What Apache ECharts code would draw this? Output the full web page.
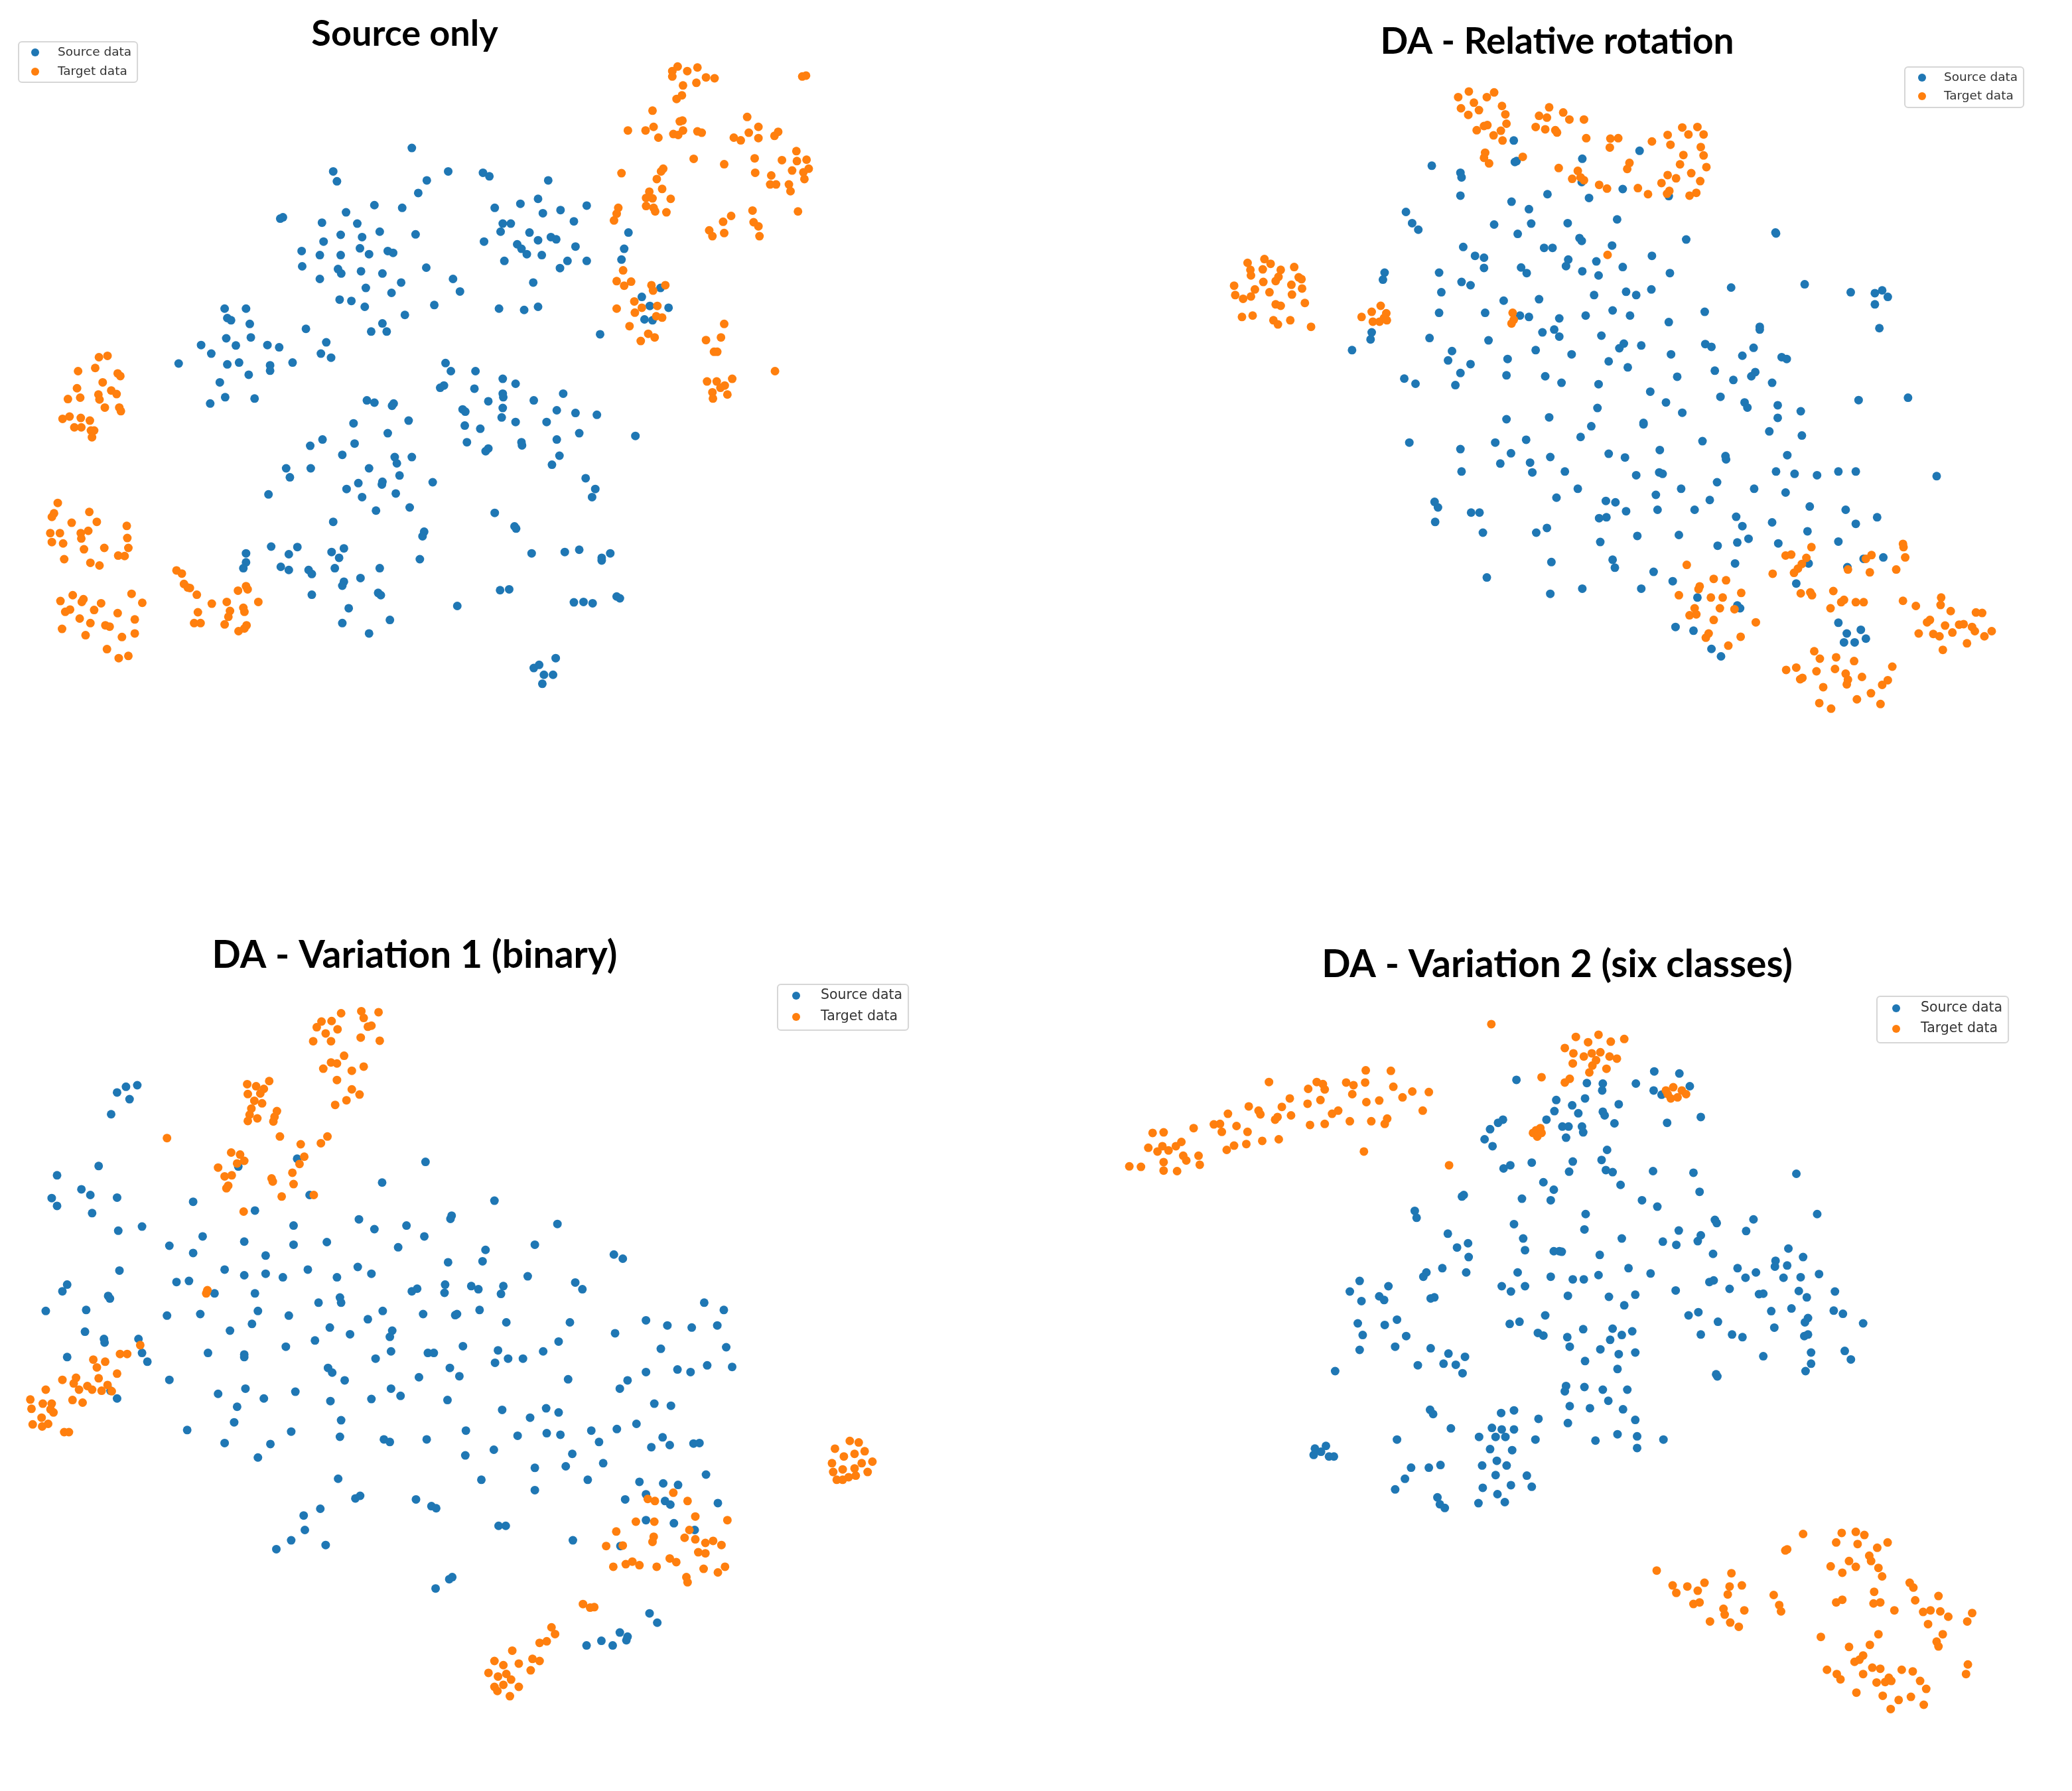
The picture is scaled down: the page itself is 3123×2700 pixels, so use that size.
<!DOCTYPE html>
<html>
<head>
<meta charset="utf-8">
<title>t-SNE domain adaptation</title>
<script src="https://cdn.jsdelivr.net/npm/echarts@6/dist/echarts.min.js"></script>
<style>
  html, body { margin: 0; padding: 0; background: #fff; }
  #main { width: 3123px; height: 2700px; }
</style>
</head>
<body>
<div id="main"></div>
<script>
// embedding points, per panel, [x, y] with y pointing down

var titles = ['Source only', 'DA - Relative rotation', 'DA - Variation 1 (binary)', 'DA - Variation 2 (six classes)'];
var seriesNames = ['Source data', 'Target data'];

// Source only
var p1Source = [[770,329],[623,381],[630,403],[838,381],[903,384],[915,392],[1025,401],[798,401],[782,429],[700,456],[752,462],[647,472],[524,486],[529,483],[668,497],[602,495],[710,515],[637,522],[677,527],[777,521],[605,537],[564,558],[598,567],[637,567],[673,552],[690,565],[725,558],[735,562],[565,592],[632,598],[638,608],[675,603],[715,608],[797,595],[598,620],[750,628],[684,640],[847,620],[860,648],[732,651],[635,666],[657,669],[682,682],[812,678],[757,700],[715,719],[694,737],[723,737],[572,731],[610,761],[600,786],[619,795],
  [925,462],[973,453],[1006,442],[1015,474],[1048,467],[1097,457],[940,497],[955,497],[936,515],[990,517],[1073,492],[905,537],[967,543],[1006,534],[1030,527],[1040,532],[975,553],[985,565],[1013,567],[1076,548],[943,580],[1061,580],[1097,580],[1047,596],[997,628],[933,686],[980,689],[1006,682],[1175,517],[1167,553],[1162,577],[1122,743],
  [1200,660],[1235,640],[1215,680],[1205,710],[1220,712],[1250,684],
  [420,686],[460,686],[425,707],[432,712],[467,720],[376,767],[395,786],[423,752],[441,768],[469,750],[500,767],[522,772],[334,808],[425,810],[447,806],[505,812],[505,824],[547,806],[465,833],[411,850],[393,897],[421,883],[476,886],
  [833,807],[843,825],[889,825],[940,842],[964,853],[830,857],[823,862],[887,864],[940,875],[941,883],[913,892],[998,890],[1053,875],[1041,912],[1076,918],[1116,922],[865,910],[870,915],[940,907],[938,928],[964,938],[1022,938],[869,946],[898,953],[1083,963],[1188,969],[873,983],[913,997],[908,1003],[975,983],[976,990],[1041,977],[1046,1013],[1032,1033],[1095,1063],[1113,1087],[1107,1105],
  [686,890],[700,895],[736,897],[733,902],[661,941],[764,935],[725,963],[603,977],[580,991],[663,986],[640,1011],[738,1016],[770,1016],[742,1030],[535,1041],[581,1041],[690,1041],[542,1061],[747,1057],[809,1072],[670,1074],[715,1071],[714,1077],[648,1087],[740,1097],[677,1105],[502,1099],[703,1135],[766,1128],[623,1160],[925,1140],[962,1170],[965,1175],[793,1182],[790,1192],
  [460,1230],[460,1250],[455,1263],[507,1215],[556,1216],[540,1232],[525,1260],[540,1267],[577,1267],[583,1276],[620,1227],[643,1219],[634,1240],[626,1263],[710,1263],[785,1243],[674,1285],[643,1293],[640,1302],[707,1318],[712,1323],[583,1322],[652,1352],[640,1385],[729,1378],[690,1408],[855,1347],[994,1230],[1056,1227],[1083,1222],[1141,1230],[1125,1240],[1125,1246],[935,1312],[952,1310],[1073,1339],[1091,1338],[1108,1341],[1153,1326],[1159,1330],
  [998,1485],[1008,1478],[1039,1463],[1017,1500],[1034,1500],[1014,1520]];
var p1Target = [[1257,158],[1267,148],[1285,158],[1304,150],[1257,170],[1277,190],[1302,184],[1320,172],[1336,174],[1265,220],[1275,212],[1220,246],[1500,170],[1507,168],[1174,290],[1207,290],[1222,282],[1231,306],[1259,298],[1271,270],[1276,268],[1268,300],[1277,290],[1304,292],[1312,295],[1397,260],[1418,282],[1372,306],[1385,312],[1400,295],[1418,307],[1448,302],[1455,293],[1297,353],[1354,365],[1411,352],[1489,336],[1462,356],[1490,358],[1508,355],[1512,375],[1502,383],[1481,379],[1412,384],[1442,390],[1440,410],[1451,410],[1475,410],[1478,425],[1504,398],
  [1162,385],[1240,375],[1236,381],[1228,398],[1214,426],[1208,440],[1220,441],[1238,420],[1254,442],[1208,458],[1222,462],[1225,470],[1246,472],[1156,462],[1153,475],[1148,490],[1407,468],[1492,470],[1367,480],[1352,493],[1409,494],[1418,503],[1420,525],[1326,512],[1332,525],[1354,518],
  [1165,601],[1153,625],[1167,635],[1180,626],[1218,634],[1244,634],[1221,646],[1153,686],[1186,670],[1187,695],[1200,684],[1229,680],[1227,703],[1238,706],[1177,725],[1212,742],[1224,750],[1198,758],
  [1354,720],[1320,756],[1348,750],[1335,782],[1341,782],[1322,848],[1340,848],[1355,857],[1369,842],[1332,872],[1333,886],[1360,877],[1347,862],[1449,825],
  [185,794],[201,791],[146,825],[178,818],[220,830],[225,836],[192,850],[144,863],[150,884],[127,887],[184,877],[186,888],[208,868],[218,876],[196,906],[223,906],[226,914],[117,931],[130,926],[151,929],[168,935],[139,950],[152,950],[170,957],[176,957],[172,972],
  [108,1118],[101,1141],[97,1149],[167,1138],[134,1162],[181,1160],[94,1185],[112,1185],[165,1180],[151,1185],[152,1197],[237,1169],[238,1196],[97,1205],[118,1208],[157,1221],[195,1218],[240,1218],[221,1235],[233,1236],[120,1243],[169,1251],[186,1257],
  [113,1336],[136,1323],[153,1338],[156,1332],[189,1341],[122,1360],[131,1355],[176,1356],[246,1320],[266,1340],[220,1363],[149,1375],[169,1385],[197,1390],[205,1393],[252,1377],[116,1398],[160,1412],[228,1416],[252,1408],[200,1443],[222,1463],[240,1458],
  [330,1268],[340,1275],[344,1298],[351,1306],[355,1307],[368,1322],[445,1313],[460,1303],[463,1310],[483,1338],[396,1342],[424,1338],[370,1361],[363,1385],[375,1385],[430,1358],[455,1351],[457,1360],[427,1371],[420,1388],[461,1390],[446,1403],[457,1397]];

// DA - Relative rotation
var p2Source = [[423,355],[474,370],[476,380],[474,419],[569,301],[571,347],[574,345],[691,340],[690,390],[703,424],[763,405],[793,323],[845,420],[629,416],[565,432],[596,448],[377,454],[388,478],[399,492],[534,481],[600,479],[576,501],[665,478],[753,470],[686,510],[690,516],[744,526],[876,513],[1035,498],[1036,500],[479,529],[500,548],[516,552],[516,574],[623,531],[638,531],[666,556],[662,570],[716,560],[763,572],[815,548],[582,573],[592,585],[691,581],[720,590],[847,585],[339,584],[336,599],[436,584],[476,604],[492,611],[440,626],[551,644],[614,641],[712,632],[769,625],[787,632],[814,620],[956,616],[1087,609],[1169,626],[1212,628],[1225,622],[1235,636],[1212,652],
  [436,670],[518,670],[580,676],[596,679],[650,682],[697,676],[745,665],[776,676],[845,690],[909,668],[1007,700],[1007,706],[1220,703],[316,712],[314,727],[281,750],[419,724],[524,729],[620,712],[641,706],[650,721],[725,719],[608,750],[672,759],[757,746],[765,736],[796,740],[910,737],[921,743],[976,762],[996,745],[1046,765],[1055,769],[459,752],[452,772],[492,780],[558,769],[738,774],[772,787],[849,759],[474,799],[465,825],[374,811],[394,822],[556,804],[625,806],[654,820],[720,823],[860,807],[927,794],[960,814],[992,806],[999,797],[1029,820],
  [812,839],[840,862],[937,850],[980,862],[985,873],[869,884],[1039,868],[1039,895],[1080,881],[1183,857],[1271,852],[556,898],[632,894],[718,874],[800,906],[800,909],[707,913],[688,936],[591,942],[536,948],[383,948],[474,962],[905,945],[1024,924],[1082,933],[564,971],[634,979],[738,972],[767,980],[829,964],[946,977],[947,984],[1056,975],[476,1010],[545,993],[598,991],[602,1012],[660,1010],[787,1018],[828,1012],[834,1015],[1036,1010],[1069,1015],[1109,1018],[1147,1010],[1178,1010],[1322,1020],
  [683,1047],[645,1066],[867,1047],[931,1033],[997,1047],[1053,1055],[822,1060],[733,1073],[750,1076],[918,1071],[428,1075],[434,1087],[429,1118],[493,1098],[508,1098],[769,1095],[825,1092],[891,1092],[1096,1085],[1160,1092],[721,1110],[734,1108],[965,1107],[976,1127],[1029,1119],[1092,1138],[1178,1122],[1216,1108],[514,1141],[609,1141],[628,1131],[789,1148],[863,1146],[723,1161],[932,1169],[967,1162],[987,1154],[1040,1164],[1147,1160],[636,1204],[745,1199],[749,1216],[963,1207],[818,1225],[1094,1207],[1163,1215],[1192,1197],[1227,1194],[1090,1203],
  [521,1237],[852,1245],[1072,1250],[634,1272],[691,1261],[796,1261],[896,1280],[967,1297],[972,1303],[1147,1334],[1162,1357],[1187,1349],[1157,1376],[1176,1376],[1196,1368],[857,1343],[889,1351],[921,1390],[938,1406]];
var p2Target = [[470,208],[489,196],[498,220],[475,232],[507,236],[488,246],[521,208],[534,198],[548,227],[554,245],[556,265],[516,270],[503,279],[522,268],[546,280],[533,290],[549,301],[518,327],[516,338],[525,350],[585,336],
  [632,230],[614,248],[628,252],[657,241],[668,256],[694,256],[608,272],[625,277],[646,284],[643,279],[698,296],[741,297],[755,296],[740,316],[649,360],[683,366],[673,383],[688,380],[694,386],[721,396],[735,404],[775,349],[771,362],[790,403],[808,416],
  [815,303],[843,289],[848,310],[869,273],[880,288],[896,272],[907,288],[902,315],[907,333],[912,358],[871,332],[865,352],[885,371],[901,388],[843,375],[858,382],[832,392],[846,409],[842,415],[882,419],[894,413],
  [95,563],[100,578],[101,590],[125,555],[136,565],[122,577],[154,578],[150,593],[145,602],[123,604],[71,612],[73,632],[108,620],[134,626],[101,635],[87,640],[178,572],[186,594],[191,598],[173,610],[192,618],[174,631],[197,649],[145,652],[154,655],[85,679],[104,676],[141,686],[149,695],[171,686],[208,700],
  [332,655],[316,668],[298,679],[342,671],[338,681],[318,689],[330,689],[343,686],[567,670],[569,685],[565,693],[736,546],
  [877,1210],[900,1256],[898,1262],[925,1240],[947,1243],[863,1275],[920,1280],[941,1280],[974,1270],[891,1303],[936,1303],[962,1305],[882,1318],[894,1316],[925,1328],[1000,1333],[911,1366],[916,1357],[973,1364],[951,1383],
  [1053,1190],[1063,1188],[1090,1195],[1099,1172],[1030,1229],[1068,1227],[1075,1218],[1082,1208],[1080,1271],[1097,1269],[1100,1275],[1138,1266],[1157,1285],[1152,1290],[1133,1303],[1178,1290],[1192,1290],
  [1164,1220],[1203,1226],[1206,1189],[1196,1197],[1250,1220],[1262,1165],[1263,1172],[1266,1194],
  [1262,1287],[1285,1298],[1330,1280],[1329,1296],[1347,1309],[1310,1328],[1305,1333],[1337,1340],[1362,1338],[1290,1357],[1316,1358],[1327,1363],[1350,1355],[1370,1337],[1385,1343],[1392,1312],[1403,1313],[1390,1352],[1407,1363],[1420,1352],[1376,1378],[1333,1392],
  [1104,1395],[1114,1411],[1143,1408],[1175,1416],[1243,1428],[1054,1435],[1072,1430],[1108,1438],[1141,1433],[1160,1443],[1083,1452],[1079,1455],[1189,1450],[1235,1457],[1225,1467],[1162,1466],[1164,1456],[1120,1472],[1205,1485],[1180,1498],[1222,1508],[1113,1506],[1134,1518]];

// DA - Variation 1 (binary)
var p3Source = [[197,342],[212,331],[231,328],[218,355],[187,384],[96,502],[166,484],[137,529],[152,540],[87,546],[96,561],[197,545],[155,575],[199,609],[239,601],[325,553],[401,485],[500,470],[429,570],[521,540],[716,476],[643,516],[832,551],[604,587],[630,606],[684,599],[760,580],[758,586],[714,620],[494,599],[938,596],[285,638],[341,620],[325,652],[411,630],[494,636],[550,631],[447,657],[670,641],[817,646],[812,668],[900,636],[1033,655],[1048,663],
  [201,686],[378,684],[411,695],[447,692],[476,699],[518,684],[567,699],[602,679],[625,692],[754,670],[888,697],[113,713],[105,726],[297,708],[318,706],[361,730],[429,730],[693,726],[702,721],[749,713],[748,729],[793,716],[805,722],[847,716],[843,731],[968,709],[980,722],[77,764],[145,762],[182,735],[185,740],[281,773],[337,770],[434,764],[486,773],[536,748],[572,738],[574,748],[644,764],[712,770],[766,772],[769,770],[807,762],[852,786],[959,786],[1185,748],[1218,762],[1087,782],[1123,792],[1164,796],[1207,792],[1035,807],
  [143,804],[175,818],[176,825],[233,818],[239,845],[248,862],[113,853],[387,802],[424,789],[555,796],[589,809],[619,780],[660,802],[656,814],[530,821],[350,845],[411,848],[411,853],[481,833],[632,856],[658,842],[720,845],[730,845],[779,832],[838,840],[833,864],[855,856],[880,856],[914,842],[940,823],[1112,837],[1222,834],[285,897],[552,874],[559,883],[580,898],[705,892],[757,874],[773,890],[956,896],[1087,882],[1140,877],[1162,882],[1190,869],[1232,872],[1056,898],[1043,914],
  [186,918],[197,933],[367,924],[413,914],[444,933],[497,920],[556,938],[625,934],[658,914],[674,928],[753,936],[1101,943],[1129,947],[399,949],[394,979],[574,975],[845,955],[892,970],[919,952],[940,960],[315,994],[378,1019],[434,1047],[455,1021],[490,997],[572,1007],[646,1012],[656,1017],[718,1012],[784,995],[783,1043],[831,1032],[871,1005],[920,1000],[943,1003],[963,1040],[952,1064],[995,995],[1008,1017],[1038,992],[1071,982],[1015,1058],[1096,1027],[1115,1008],[1127,1023],[1167,1020],[1177,1019],
  [569,1088],[598,1126],[606,1121],[700,1128],[726,1141],[734,1145],[810,1090],[900,1067],[900,1110],[989,1090],[1076,1094],[1116,1097],[1141,1100],[1188,1080],[1052,1128],[1087,1118],[1119,1131],[1128,1138],[1208,1135],[1087,1168],[1134,1174],[1169,1187],[839,1179],[851,1179],[964,1207],[1044,1218],[511,1159],[539,1146],[513,1187],[490,1207],[465,1224],[548,1216],
  [733,1300],[756,1282],[761,1278],[1093,1348],[1106,1366],[987,1410],[1012,1401],[1031,1410],[1043,1385],[1056,1393],[1054,1400]];
var p3Target = [[574,189],[608,185],[637,187],[612,198],[625,213],[541,205],[558,204],[533,216],[548,228],[568,220],[619,215],[607,236],[639,242],[527,243],[557,243],[579,271],[557,284],[567,286],[544,296],[592,300],[612,292],[605,346],[592,336],[583,357],[567,318],[564,366],
  [416,326],[431,330],[444,335],[453,320],[438,344],[417,345],[428,358],[441,363],[423,373],[420,385],[433,392],[417,397],[466,378],[462,389],[460,398],[471,427],[506,442],[540,440],[551,427],[389,458],[404,462],[411,474],[367,487],[399,479],[390,502],[378,504],[381,527],[384,522],[512,466],[504,480],[492,497],[494,519],[457,508],[459,514],[474,543],[528,540],[410,572],[281,430],
  [349,724],[347,730],[236,830],[202,847],[214,847],[157,858],[177,862],[163,873],[166,894],[197,885],[105,897],[128,893],[124,904],[133,916],[147,909],[155,916],[122,936],[139,941],[171,918],[181,907],[188,919],[77,916],[51,935],[53,953],[72,943],[87,943],[85,954],[90,960],[70,970],[55,983],[71,987],[81,982],[108,998],[116,998],
  [1405,1030],[1430,1015],[1445,1018],[1420,1045],[1438,1040],[1455,1035],[1468,1055],[1400,1058],[1418,1070],[1438,1068],[1460,1075],[1402,1075],[1428,1085],[1440,1082],[1408,1090],[1418,1090],[1450,1058],
  [1090,1127],[1102,1131],[1133,1115],[1157,1131],[1070,1171],[1101,1171],[1170,1161],[1224,1168],[1037,1190],[1100,1200],[1098,1210],[1160,1187],[1152,1202],[1170,1205],[1187,1212],[1200,1208],[1214,1216],[1020,1218],[1048,1217],[1175,1230],[1187,1232],[1032,1258],[1053,1253],[1064,1248],[1076,1255],[1105,1258],[1127,1242],[1138,1249],[1184,1262],[1208,1269],[1220,1258],[1155,1278],[1157,1288],
  [981,1330],[993,1337],[1000,1336],[928,1375],[934,1388],[908,1405],[920,1402],[862,1420],[832,1440],[847,1448],[873,1445],[896,1436],[908,1440],[893,1458],[822,1463],[838,1470],[852,1465],[860,1476],[832,1490],[847,1486],[873,1490],[837,1498],[858,1508]];

// DA - Variation 2 (six classes)
var p4Source = [[656,285],[771,291],[797,292],[796,305],[851,292],[881,269],[922,273],[939,297],[880,305],[893,313],[721,323],[768,320],[747,333],[823,331],[718,344],[757,348],[797,345],[800,352],[705,360],[731,373],[741,373],[763,373],[765,384],[816,367],[634,360],[626,366],[613,378],[604,397],[617,410],[737,394],[804,417],[902,366],[957,355],[635,452],[646,446],[681,441],[748,439],[795,436],[802,455],[813,459],[742,458],[879,457],[945,460],[700,478],[717,492],[712,512],[665,509],[826,483],[861,512],[886,524],[955,496],[1113,462],[570,502],[567,505],[490,532],[493,545],
  [769,538],[767,567],[652,557],[667,584],[670,606],[544,575],[577,593],[559,601],[578,619],[717,608],[726,608],[730,609],[792,615],[828,584],[895,590],[917,596],[921,569],[952,589],[957,578],[980,549],[983,555],[1043,548],[1031,570],[1147,538],[977,613],[1100,603],[1079,626],[1078,637],[1098,635],[1124,619],
  [504,656],[509,648],[535,640],[574,648],[658,648],[712,656],[748,661],[766,661],[790,653],[839,640],[875,650],[1017,640],[1047,648],[1030,658],[1004,679],[971,666],[978,663],[1092,658],[1120,657],[1150,651],[1052,689],[1059,688],[1117,683],[1130,695],[1176,684],[400,664],[447,674],[384,684],[432,693],[440,700],[403,702],[632,674],[647,684],[670,674],[740,692],[807,694],[850,690],[832,710],[916,682],[516,697],[522,695],
  [937,729],[953,723],[1072,721],[1105,716],[1132,734],[1127,742],[1174,720],[1189,726],[1222,744],[397,744],[441,747],[461,737],[405,766],[476,768],[645,745],[661,741],[703,729],[691,762],[700,767],[739,770],[765,755],[813,754],[828,766],[845,759],[809,775],[957,765],[985,741],[1008,765],[1025,770],[1077,752],[1126,768],[1132,765],
  [400,794],[458,788],[516,791],[545,801],[572,807],[495,823],[537,820],[557,822],[568,838],[360,834],[743,788],[793,793],[823,802],[850,799],[768,815],[1059,806],[1137,799],[1192,796],[1202,812],[1137,820],[1128,834],[821,830],[982,840],[984,844],
  [737,862],[735,872],[767,864],[797,869],[837,869],[743,900],[776,904],[806,890],[830,906],[850,926],[740,932],[515,907],[520,915],[549,942],[631,913],[652,908],[692,924],[616,941],[632,944],[652,944],[595,958],[622,958],[638,958],[461,963],[687,963],[785,965],[821,953],[853,957],[853,979],[896,963],
  [327,980],[345,975],[325,992],[337,986],[350,995],[358,995],[613,981],[649,983],[600,1012],[624,1003],[640,1012],[622,1030],[484,1016],[513,1016],[532,1011],[474,1037],[458,1057],[673,1031],[647,1049],[681,1052],[601,1054],[625,1066],[637,1081],[594,1083],[527,1072],[531,1085],[539,1092]];
var p4Target = [[24,448],[43,449],[62,385],[80,384],[129,376],[55,413],[70,420],[78,410],[88,418],[100,410],[109,402],[112,428],[117,437],[137,428],[139,445],[80,440],[80,456],[102,457],[162,369],[185,349],[172,368],[175,383],[199,372],[217,383],[219,335],[235,343],[238,350],[252,289],[273,336],[266,355],[262,360],[286,320],[288,352],[316,302],[315,330],[336,323],[330,289],[340,293],[343,303],[378,290],[388,312],[390,295],[410,267],[409,290],[451,268],[455,298],[470,318],[486,307],[513,308],[503,343],[355,349],[365,343],[384,363],[419,363],[441,368],[445,358],[432,324],[411,327],[343,368],[319,370],[241,400],[268,397],[215,406],[195,409],[183,417],[407,420],[546,446],[615,180],
  [753,204],[773,214],[790,200],[810,213],[832,208],[735,225],[749,235],[766,241],[779,235],[793,233],[808,241],[820,245],[748,254],[780,258],[786,248],[803,264],[775,271],[697,280],[743,283],[735,290],
  [900,305],[912,299],[926,305],[933,312],[908,320],[919,318],[903,312],[688,380],[695,376],[683,385],[690,392],[697,385],
  [1124,1141],[1095,1172],[1098,1170],[1187,1139],[1210,1137],[1224,1143],[1262,1157],[1178,1157],[1213,1160],[1245,1167],[1232,1182],[1235,1192],[1169,1202],[1199,1192],[1210,1203],[1188,1214],[1247,1205],[1253,1221],
  [885,1210],[1007,1215],[911,1238],[935,1240],[963,1233],[952,1248],[917,1252],[1024,1238],[1004,1240],[1001,1255],[945,1273],[955,1270],[994,1282],[1028,1285],[996,1293],[972,1306],[1005,1308],[1019,1316],[1076,1256],[1085,1275],[1088,1287],
  [1298,1233],[1304,1242],[1240,1250],[1345,1258],[1307,1266],[1188,1265],[1178,1270],[1239,1272],[1250,1270],[1273,1285],[1320,1288],[1332,1285],[1348,1287],[1361,1297],[1400,1290],[1392,1306],[1328,1311],[1352,1330],[1342,1344],[1345,1353],
  [1247,1330],[1153,1335],[1233,1350],[1199,1354],[1222,1370],[1208,1382],[1216,1378],[1163,1397],[1179,1405],[1185,1415],[1222,1405],[1237,1393],[1250,1395],[1264,1412],[1285,1397],[1303,1400],[1244,1421],[1258,1420],[1268,1418],[1315,1418],[1325,1433],[1211,1440],[1254,1446],[1280,1454],[1300,1448],[1267,1471],[1321,1463],[1393,1387],[1390,1405]];

var panelSource = [p1Source, p2Source, p3Source, p4Source];
var panelTarget = [p1Target, p2Target, p3Target, p4Target];

// where each panel sits on the page (px)
var panels = [
    { left: 0,    top: 0,    width: 1260, height: 1060, titleX: 610,  titleY: 52,   titleSize: 54,
      legend: { left: 28,   top: 63,   pad: [6, 9, 6, 19],  gap: 9,  font: 18.5, lh: 20, tpad: 23 } },
    { left: 1800, top: 0,    width: 1323, height: 1100, titleX: 2347, titleY: 63,   titleSize: 55,
      legend: { left: 2871, top: 101,  pad: [6, 9, 7, 20],  gap: 8,  font: 18.5, lh: 20, tpad: 22 } },
    { left: 0,    top: 1380, width: 1400, height: 1220, titleX: 625,  titleY: 1441, titleSize: 57,
      legend: { left: 1172, top: 1484, pad: [6, 9, 9, 22],  gap: 10, font: 20.5, lh: 22, tpad: 26 } },
    { left: 1680, top: 1400, width: 1443, height: 1250, titleX: 2347, titleY: 1455, titleSize: 57,
      legend: { left: 2829, top: 1502, pad: [7, 9, 10, 23], gap: 9,  font: 20.5, lh: 22, tpad: 26 } }
];

var blue = '#1f77b4', orange = '#ff7f0e';

var grid = [], xAxis = [], yAxis = [], series = [], title = [], legend = [];
panels.forEach(function (p, i) {
    grid.push({ left: p.left, top: p.top, width: p.width, height: p.height, containLabel: false });
    xAxis.push({ gridIndex: i, type: 'value', min: 0, max: 1563, show: false });
    yAxis.push({ gridIndex: i, type: 'value', min: 0, max: 1563, inverse: true, show: false });
    series.push({
        name: seriesNames[0], type: 'scatter', xAxisIndex: i, yAxisIndex: i,
        data: panelSource[i], symbolSize: 13, itemStyle: { color: blue, opacity: 1 }
    });
    series.push({
        name: seriesNames[1], type: 'scatter', xAxisIndex: i, yAxisIndex: i,
        data: panelTarget[i], symbolSize: 13, itemStyle: { color: orange, opacity: 1 }
    });
    title.push({
        text: titles[i], left: p.titleX, top: p.titleY, padding: 0,
        textAlign: 'center', textVerticalAlign: 'middle',
        textStyle: { fontFamily: 'Lato', fontWeight: 'bold', fontSize: p.titleSize, color: '#000' }
    });
    var lg = p.legend;
    legend.push({
        data: seriesNames, orient: 'vertical', left: lg.left, top: lg.top,
        padding: lg.pad, itemGap: lg.gap, itemWidth: 12, itemHeight: 12, icon: 'circle',
        backgroundColor: '#fff', borderColor: '#d6d6d6', borderWidth: 2, borderRadius: 5,
        selectedMode: false,
        textStyle: { fontFamily: 'DejaVu Sans', fontSize: lg.font, lineHeight: lg.lh, color: '#333', padding: [0, 0, 0, lg.tpad] }
    });
});

var myChart = echarts.init(document.getElementById('main'));
myChart.setOption({
    animation: false,
    backgroundColor: '#fff',
    title: title,
    legend: legend,
    grid: grid,
    xAxis: xAxis,
    yAxis: yAxis,
    series: series
});
window.addEventListener('resize', function () {
    myChart.resize();
});
</script>
</body>
</html>
